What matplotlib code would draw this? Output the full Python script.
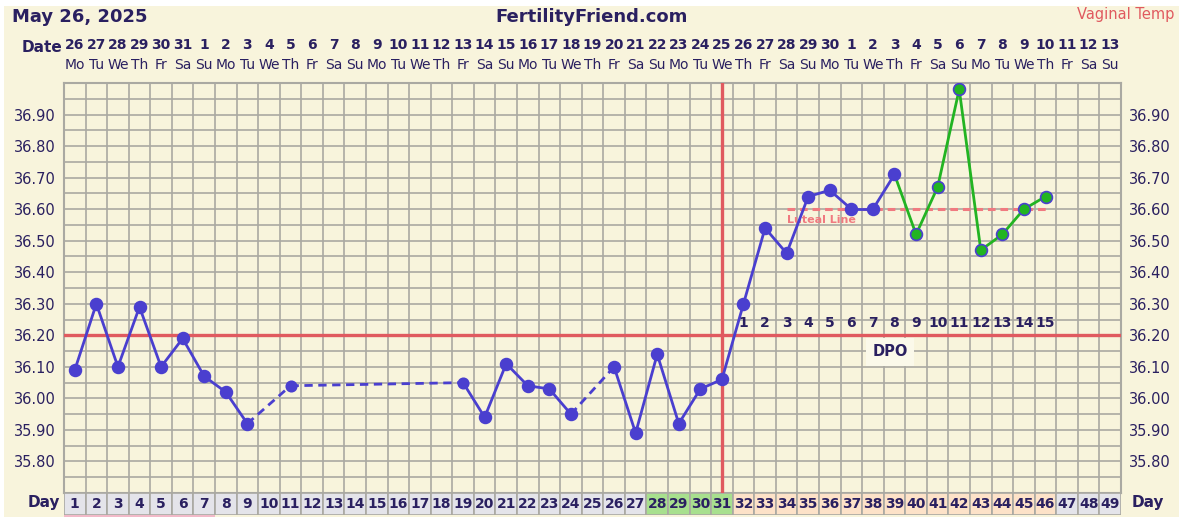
import matplotlib.pyplot as plt
from matplotlib.patches import Rectangle
from matplotlib.transforms import blended_transform_factory

# --- data ---
dias = list(range(1, 50))
datas = ['26', '27', '28', '29', '30', '31', '1', '2', '3', '4', '5', '6', '7', '8', '9', '10',
         '11', '12', '13', '14', '15', '16', '17', '18', '19', '20', '21', '22', '23', '24', '25',
         '26', '27', '28', '29', '30', '1', '2', '3', '4', '5', '6', '7', '8', '9', '10', '11',
         '12', '13']
semana = ['Mo', 'Tu', 'We', 'Th', 'Fr', 'Sa', 'Su'] * 7

temp = {1: 36.09, 2: 36.30, 3: 36.10, 4: 36.29, 5: 36.10, 6: 36.19, 7: 36.07, 8: 36.02,
        9: 35.92, 11: 36.04, 19: 36.05, 20: 35.94, 21: 36.11, 22: 36.04, 23: 36.03,
        24: 35.95, 26: 36.10, 27: 35.89, 28: 36.14, 29: 35.92, 30: 36.03, 31: 36.06,
        32: 36.30, 33: 36.54, 34: 36.46, 35: 36.64, 36: 36.66, 37: 36.60, 38: 36.60,
        39: 36.71, 40: 36.52, 41: 36.67, 42: 36.98, 43: 36.47, 44: 36.52, 45: 36.60,
        46: 36.64}

coverline = 36.20
dia_ovulacao = 31
luteal = 36.60
luteal_ini, luteal_fim = 34, 46
dpo = list(range(1, 16))
dias_verdes = [28, 29, 30, 31]
dias_luteos = list(range(32, 47))
dias_menstruacao = list(range(1, 8))
inicio_verde = 39

azul = '#4a3fcf'
verde = '#22b422'
vermelho = '#e05a5f'
navy = '#2a2060'
creme = '#f8f4dc'
cinza = '#aaa9a2'

W, H = 1179, 517
fig = plt.figure(figsize=(W / 100, H / 100), dpi=100, facecolor='white')
fig.patches.append(Rectangle((4 / W, 0), 1, 1 - 6 / H, transform=fig.transFigure,
                             facecolor=creme, edgecolor='none', zorder=-10))

x0, x1, y0, y1 = 64, 1121, 83, 493
ax = fig.add_axes([x0 / W, 1 - y1 / H, (x1 - x0) / W, (y1 - y0) / H])
ax.set_facecolor(creme)
ax.set_xlim(0.5, 49.5)
ax.set_ylim(35.70, 37.00)

# grade
for k in range(50):
    ax.axvline(k + 0.5, color=cinza, lw=1.2, zorder=1)
for k in range(27):
    ax.axhline(35.70 + 0.05 * k, color=cinza, lw=1.2, zorder=1)
for s in ax.spines.values():
    s.set_color(cinza)
    s.set_linewidth(1.5)

ax.set_xticks([])
yt = [35.80 + 0.1 * i for i in range(12)]
ax.set_yticks(yt)
ax.set_yticklabels(['%.2f' % v for v in yt])
ax.tick_params(axis='y', length=0, labelsize=10.5, labelcolor=navy, pad=6,
               labelright=True)

# coverline e ovulação
ax.axhline(coverline, color=vermelho, lw=2.4, zorder=3)
ax.axvline(dia_ovulacao, color=vermelho, lw=2.4, zorder=3)

# luteal line
ax.plot([luteal_ini, luteal_fim], [luteal, luteal], color='#f07a80', lw=2.2,
        ls=(0, (2.5, 1.6)), zorder=3)
ax.text(luteal_ini, luteal - 0.035, 'Luteal Line', color='#f07a80', fontsize=8,
        fontweight='bold', ha='left', va='center', zorder=3)

# temperaturas
d = sorted(temp)
for a, b in zip(d[:-1], d[1:]):
    cor = verde if a >= inicio_verde else azul
    estilo = '-' if b - a == 1 else (0, (3, 2))
    ax.plot([a, b], [temp[a], temp[b]], color=cor, lw=2.0, ls=estilo, zorder=4)
for k in d:
    fc = verde if k > inicio_verde else azul
    ms = 7.5 if k in (11, 19) else 8.5
    ax.plot(k, temp[k], 'o', ms=ms, mfc=fc, mec=azul, mew=1.2, zorder=5)

# DPO
for i, n in enumerate(dpo):
    ax.text(dia_ovulacao + 1 + i, coverline + 0.04, str(n), ha='center', va='center',
            fontsize=10, fontweight='bold', color=navy, zorder=6)
ax.text(38.8, coverline - 0.052, 'DPO', ha='center', va='center', fontsize=10.5,
        fontweight='bold', color=navy, zorder=6,
        bbox=dict(boxstyle='square,pad=0.45', fc='#fbf9ea', ec='none'))

# linha de dias
axd = fig.add_axes([x0 / W, 2 / H, (x1 - x0) / W, 22 / H])
axd.set_xlim(0.5, 49.5)
axd.set_ylim(0, 1)
axd.axis('off')
for k in dias:
    if k in dias_verdes:
        fc = '#a8e08e'
    elif k in dias_luteos:
        fc = '#fde2c8'
    else:
        fc = '#e4e4ea'
    axd.add_patch(Rectangle((k - 0.5, 0), 1, 1, facecolor=fc, edgecolor=cinza, lw=1.2))
    axd.text(k, 0.5, str(k), ha='center', va='center', fontsize=10,
             fontweight='bold', color=navy)
for k in dias_menstruacao:
    fig.patches.append(Rectangle(((x0 + (k - 1) * (x1 - x0) / 49) / W, 0),
                                 (x1 - x0) / 49 / W, 2 / H, transform=fig.transFigure,
                                 facecolor='#f2b9c8', edgecolor='none'))

fig.text(44 / W, 1 - 503 / H, 'Day', ha='center', va='center', fontsize=11,
         fontweight='bold', color=navy)
fig.text(1148 / W, 1 - 503 / H, 'Day', ha='center', va='center', fontsize=11,
         fontweight='bold', color=navy)

# cabeçalho
tr = blended_transform_factory(ax.transData, fig.transFigure)
for k, dt, sm in zip(dias, datas, semana):
    fig.text(k, 1 - 45 / H, dt, transform=tr, ha='center', va='center', fontsize=10,
             fontweight='bold', color=navy)
    fig.text(k, 1 - 65 / H, sm, transform=tr, ha='center', va='center', fontsize=10,
             color=navy)
fig.text(42 / W, 1 - 48 / H, 'Date', ha='center', va='center', fontsize=11,
         fontweight='bold', color=navy)
fig.text(12 / W, 1 - 17 / H, 'May 26, 2025', ha='left', va='center', fontsize=13,
         fontweight='bold', color=navy)
fig.text(592 / W, 1 - 17 / H, 'FertilityFriend.com', ha='center', va='center',
         fontsize=13, fontweight='bold', color=navy)
fig.text(1174 / W, 1 - 15 / H, 'Vaginal Temp', ha='right', va='center', fontsize=10.5,
         color='#e05a5f')

fig.savefig('out.png', dpi=100, facecolor=fig.get_facecolor())
